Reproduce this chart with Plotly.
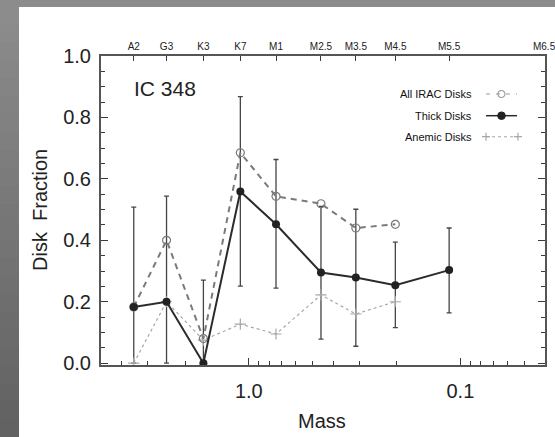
import numpy as np
import plotly.graph_objects as go

# ---------------- data ----------------
spt = ["A2", "G3", "K3", "K7", "M1", "M2.5", "M3.5", "M4.5", "M5.5", "M6.5"]
spt_mass = [3.50, 2.45, 1.64, 1.097, 0.744, 0.456, 0.312, 0.203, 0.113, 0.0402]

thick = [0.183, 0.200, 0.0, 0.559, 0.452, 0.295, 0.279, 0.254, 0.303]
thick_hi = [0.508, 0.544, 0.270, 0.868, 0.663, 0.510, 0.501, 0.394, 0.440]
thick_lo = [0.0, 0.0, 0.0, 0.251, 0.244, 0.078, 0.055, 0.116, 0.164]
all_irac = [0.183, 0.400, 0.080, 0.685, 0.543, 0.519, 0.440, 0.452]
anemic = [0.0, 0.200, 0.075, 0.127, 0.095, 0.222, 0.160, 0.200]

minor_mass = [4, 3, 2, 0.9, 0.8, 0.7, 0.6, 0.5, 0.4, 0.3, 0.2,
              0.09, 0.08, 0.07, 0.06, 0.05]
major_mass = [1.0, 0.1]
major_labels = ["1.0", "0.1"]
y_ticks = [0.0, 0.2, 0.4, 0.6, 0.8, 1.0]
y_minor = [0.05, 0.10, 0.15, 0.25, 0.30, 0.35, 0.45, 0.50, 0.55,
           0.65, 0.70, 0.75, 0.85, 0.90, 0.95]

xrange_ = [np.log10(5.0), np.log10(0.0398)]
yrange_ = [-0.006, 1.0]

FONT = "Liberation Sans"
AX = "#555555"
TK = "#3a3a3a"

fig = go.Figure()

# error bars (drawn first so the lines sit on top)
th = np.array(thick)
fig.add_trace(go.Scatter(
    x=spt_mass[:len(thick)], y=thick, mode="markers",
    marker=dict(size=1, color="rgba(0,0,0,0)"),
    error_y=dict(type="data", symmetric=False,
                 array=np.array(thick_hi) - th,
                 arrayminus=th - np.array(thick_lo),
                 color="#454545", thickness=1.3, width=2.5),
    showlegend=False, hoverinfo="skip"))

# anemic disks
fig.add_trace(go.Scatter(
    x=spt_mass[:len(anemic)], y=anemic, mode="lines+markers",
    line=dict(color="#a8a8a8", width=1.2, dash="dot"),
    marker=dict(symbol="cross-thin-open", size=8,
                line=dict(color="#a8a8a8", width=1.2)),
    showlegend=False))

# all IRAC disks
fig.add_trace(go.Scatter(
    x=spt_mass[:len(all_irac)], y=all_irac, mode="lines+markers",
    line=dict(color="#7a7a7a", width=2, dash="6px,5px"),
    marker=dict(symbol="circle-open", size=8,
                line=dict(color="#9a9a9a", width=1.2)),
    showlegend=False))

# thick disks
fig.add_trace(go.Scatter(
    x=spt_mass[:len(thick)], y=thick, mode="lines+markers",
    line=dict(color="#2b2b2b", width=2),
    marker=dict(symbol="circle", size=8, color="#222222"),
    showlegend=False))

# helper traces for extra axes
fig.add_trace(go.Scatter(x=spt_mass, y=[None] * len(spt_mass), xaxis="x2",
                         yaxis="y", showlegend=False, hoverinfo="skip"))
fig.add_trace(go.Scatter(x=spt_mass, y=[None] * len(spt_mass), xaxis="x",
                         yaxis="y2", showlegend=False, hoverinfo="skip"))

# ---------------- decoration ----------------
ML, MR, MT, MB = 101, 10, 56, 72
W, H = 555, 437
PW, PH = W - ML - MR, H - MT - MB


def px(x):
    return (x - ML) / PW


def py(y):
    return (H - MB - y) / PH


shapes = []
# white page region
shapes.append(dict(type="rect", xref="paper", yref="paper", layer="below",
                   x0=px(19), x1=px(560), y0=py(445), y1=py(7),
                   fillcolor="white", line=dict(width=0)))
# left band gradient
n = 24
for i in range(n):
    t = i / (n - 1)
    g = int(140 - 42 * t)
    shapes.append(dict(type="rect", xref="paper", yref="paper", layer="below",
                       x0=px(-5), x1=px(19),
                       y0=py(7 + (437 - 7) * (i + 1) / n + 1),
                       y1=py(7 + (437 - 7) * i / n),
                       fillcolor=f"rgb({g},{g},{g})", line=dict(width=0)))

# legend samples
rows = [94, 115.7, 136.7]
lx0, lx1, lxm = px(486), px(517), px(501.5)
shapes.append(dict(type="line", xref="paper", yref="paper",
                   x0=lx0, x1=lx1, y0=py(rows[0]), y1=py(rows[0]),
                   line=dict(color="#9a9a9a", width=1.2, dash="4px,6px")))
shapes.append(dict(type="circle", xref="paper", yref="paper",
                   xsizemode="pixel", ysizemode="pixel",
                   xanchor=lxm, yanchor=py(rows[0]),
                   x0=-3.5, x1=3.5, y0=-3.5, y1=3.5,
                   line=dict(color="#9a9a9a", width=1.1)))
shapes.append(dict(type="line", xref="paper", yref="paper",
                   x0=lx0, x1=lx1, y0=py(rows[1]), y1=py(rows[1]),
                   line=dict(color="#2b2b2b", width=1.5)))
shapes.append(dict(type="circle", xref="paper", yref="paper",
                   xsizemode="pixel", ysizemode="pixel",
                   xanchor=lxm, yanchor=py(rows[1]),
                   x0=-3.8, x1=3.8, y0=-3.8, y1=3.8,
                   fillcolor="#222222", line=dict(color="#222222", width=1)))
shapes.append(dict(type="line", xref="paper", yref="paper",
                   x0=lx0, x1=px(518), y0=py(rows[2]), y1=py(rows[2]),
                   line=dict(color="#a8a8a8", width=1.1, dash="dot")))
for xa in (px(486), px(518)):
    shapes.append(dict(type="path", xref="paper", yref="paper",
                       xsizemode="pixel", ysizemode="pixel",
                       xanchor=xa, yanchor=py(rows[2]),
                       path="M-4,0 L4,0 M0,-4 L0,4",
                       line=dict(color="#a8a8a8", width=1.2)))

annotations = [
    dict(text="IC 348", x=px(132), y=py(88), xref="paper", yref="paper",
         xanchor="left", yanchor="middle", showarrow=False,
         font=dict(family=FONT, size=21, color="#222")),
    dict(text="Disk  Fraction", x=px(40), y=py(210), xref="paper",
         yref="paper", textangle=-90, showarrow=False,
         xanchor="center", yanchor="middle",
         font=dict(family=FONT, size=20, color="#222")),
    dict(text="Mass", x=px(322), y=py(421), xref="paper", yref="paper",
         showarrow=False, xanchor="center", yanchor="middle",
         font=dict(family=FONT, size=20, color="#222")),
]
for lab, r in zip(["All IRAC Disks", "Thick Disks", "Anemic Disks"], rows):
    annotations.append(dict(text=lab, x=px(474), y=py(r), xref="paper",
                            yref="paper", xanchor="right", yanchor="middle",
                            showarrow=False,
                            font=dict(family=FONT, size=11, color="#111")))

y_minor_cfg = dict(tickmode="array", tickvals=y_minor, ticks="inside",
                   ticklen=4, tickcolor=TK, tickwidth=1.1, showgrid=False)

fig.update_layout(
    width=W, height=H,
    margin=dict(l=ML, r=MR, t=MT, b=MB, autoexpand=False),
    paper_bgcolor="#8c8c8c", plot_bgcolor="white",
    showlegend=False,
    shapes=shapes, annotations=annotations,
    xaxis=dict(type="log", range=xrange_, tickmode="array",
               tickvals=major_mass, ticktext=major_labels,
               ticks="inside", ticklen=7, tickcolor=TK, tickwidth=1.2,
               minor=dict(tickmode="array", tickvals=minor_mass,
                          ticks="inside", ticklen=4, tickcolor=TK,
                          tickwidth=1.1, showgrid=False),
               showline=True, linecolor=AX, linewidth=2, mirror=False,
               showgrid=False, zeroline=False, ticklabelstandoff=7,
               automargin=False,
               tickfont=dict(family=FONT, size=20, color="#222")),
    xaxis2=dict(type="log", range=xrange_, overlaying="x", side="top",
                anchor="y", tickmode="array", tickvals=spt_mass,
                ticktext=spt, ticks="inside", ticklen=5, tickcolor=TK,
                tickwidth=1.1, showline=True, linecolor=AX, linewidth=1.5,
                showgrid=False, zeroline=False, ticklabeloverflow="allow",
                automargin=False,
                tickfont=dict(family=FONT, size=10, color="#222")),
    yaxis=dict(range=yrange_, tickmode="array", tickvals=y_ticks,
               ticktext=[f"{v:.1f}" for v in y_ticks],
               ticks="inside", ticklen=7, tickcolor=TK, tickwidth=1.2,
               minor=y_minor_cfg, automargin=False,
               showline=True, linecolor=AX, linewidth=2,
               showgrid=False, zeroline=False, ticklabelstandoff=4,
               tickfont=dict(family=FONT, size=20, color="#222")),
    yaxis2=dict(range=yrange_, overlaying="y", side="right", anchor="x",
                tickmode="array", tickvals=y_ticks, showticklabels=False,
                ticks="inside", ticklen=7, tickcolor=TK, tickwidth=1.2,
                minor=y_minor_cfg, automargin=False,
                showline=True, linecolor=AX, linewidth=2,
                showgrid=False, zeroline=False),
)

fig.write_html("out.html")
